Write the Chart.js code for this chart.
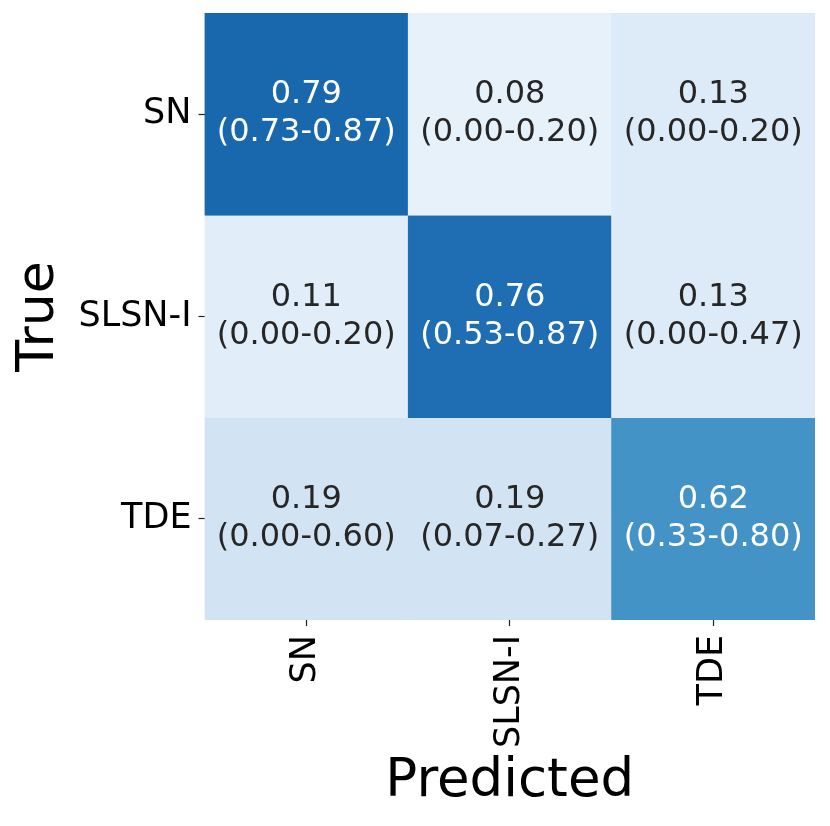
<!DOCTYPE html>
<html>
<head>
<meta charset="utf-8">
<script src="https://cdn.jsdelivr.net/npm/chart.js@4.4.0/dist/chart.umd.min.js"></script>
<style>
  html, body { margin: 0; padding: 0; background: #ffffff; }
  #wrap { width: 830px; height: 826px; }
</style>
</head>
<body>
<div id="wrap"><canvas id="c" width="830" height="826"></canvas></div>
<script>
// ---- data ----
const rowLabels = ['SN', 'SLSN-I', 'TDE'];      // True
const colLabels = ['SN', 'SLSN-I', 'TDE'];      // Predicted
const rowSN    = [0.79, 0.08, 0.13];
const rowSLSN  = [0.11, 0.76, 0.13];
const rowTDE   = [0.19, 0.19, 0.62];
const lowSN    = [0.73, 0.00, 0.00];
const lowSLSN  = [0.00, 0.53, 0.00];
const lowTDE   = [0.00, 0.07, 0.33];
const highSN   = [0.87, 0.20, 0.20];
const highSLSN = [0.20, 0.87, 0.47];
const highTDE  = [0.60, 0.27, 0.80];
const xTitle = 'Predicted';
const yTitle = 'True';

const values = [rowSN, rowSLSN, rowTDE];
const lows = [lowSN, lowSLSN, lowTDE];
const highs = [highSN, highSLSN, highTDE];

// matplotlib "Blues" colormap anchors
const blues = ['#f7fbff','#deebf7','#c6dbef','#9ecae1','#6baed6','#4292c6','#2171b5','#08519c','#08306b']
  .map(h => [parseInt(h.slice(1,3),16), parseInt(h.slice(3,5),16), parseInt(h.slice(5,7),16)]);
function bluesRGB(v) {
  v = Math.max(0, Math.min(1, v));
  const p = v * (blues.length - 1);
  const i = Math.min(Math.floor(p), blues.length - 2);
  const t = p - i;
  return blues[i].map((c, k) => Math.round(c + (blues[i+1][k] - c) * t));
}
function bluesColor(v) { const c = bluesRGB(v); return `rgb(${c[0]},${c[1]},${c[2]})`; }
function textColor(v) {
  const c = bluesRGB(v).map(x => { x /= 255; return x <= 0.03928 ? x / 12.92 : Math.pow((x + 0.055) / 1.055, 2.4); });
  const lum = 0.2126 * c[0] + 0.7152 * c[1] + 0.0722 * c[2];
  return lum > 0.408 ? '#262626' : '#ffffff';
}

const FONT = "'DejaVu Sans', sans-serif";

const datasets = values.map((row, i) => ({
  label: rowLabels[i],
  data: row.map(() => [i, i + 1]),
  backgroundColor: row.map(v => bluesColor(v)),
  borderColor: row.map(v => bluesColor(v)),
  borderWidth: 0.6,
  borderSkipped: false,
  barPercentage: 1.0,
  categoryPercentage: 1.0,
  grouped: false
}));

const annotPlugin = {
  id: 'annot',
  afterDatasetsDraw(chart) {
    const ctx = chart.ctx;
    const xs = chart.scales.x, ys = chart.scales.y;
    ctx.save();
    ctx.font = `32px ${FONT}`;
    ctx.textAlign = 'center';
    ctx.textBaseline = 'middle';
    values.forEach((row, i) => {
      row.forEach((v, j) => {
        const x = xs.getPixelForValue(j);
        const y = ys.getPixelForValue(i + 0.5);
        ctx.fillStyle = textColor(v);
        ctx.fillText(v.toFixed(2), x, y - 19);
        ctx.fillText(`(${lows[i][j].toFixed(2)}-${highs[i][j].toFixed(2)})`, x, y + 19);
      });
    });
    ctx.restore();
  }
};

new Chart(document.getElementById('c'), {
  type: 'bar',
  data: { labels: colLabels, datasets },
  options: {
    responsive: false,
    animation: false,
    layout: { padding: { top: 13, right: 15, left: 0, bottom: 0 } },
    plugins: { legend: { display: false }, tooltip: { enabled: false } },
    scales: {
      x: {
        type: 'category',
        offset: true,
        grid: { display: true, drawOnChartArea: false, drawTicks: true, tickLength: 6, tickWidth: 1.2, tickColor: '#222', offset: false },
        border: { display: false },
        ticks: { color: '#000', font: { family: FONT, size: 35 }, minRotation: 90, maxRotation: 90, autoSkip: false, padding: 9 },
        title: { display: true, text: xTitle, color: '#000', font: { family: FONT, size: 53 }, padding: { top: 0, bottom: 12 } },
        afterFit(scale) { scale.height = 206; scale.paddingLeft = 0; scale.paddingRight = 0; }
      },
      y: {
        type: 'linear',
        min: 0, max: 3,
        reverse: true,
        grid: { display: true, drawOnChartArea: false, drawTicks: true, tickLength: 6, tickWidth: 1.2, tickColor: '#222' },
        border: { display: false },
        afterBuildTicks(scale) { scale.ticks = rowLabels.map((_, i) => ({ value: i + 0.5 })); },
        ticks: {
          color: '#000', font: { family: FONT, size: 35 }, padding: 7,
          callback(value, index) { return rowLabels[index]; }
        },
        title: { display: true, text: yTitle, color: '#000', font: { family: FONT, size: 52 }, padding: { top: 8, bottom: 0 } },
        afterFit(scale) { scale.width = 204.5; scale.paddingTop = 0; scale.paddingBottom = 0; }
      }
    }
  },
  plugins: [annotPlugin]
});
</script>
</body>
</html>
